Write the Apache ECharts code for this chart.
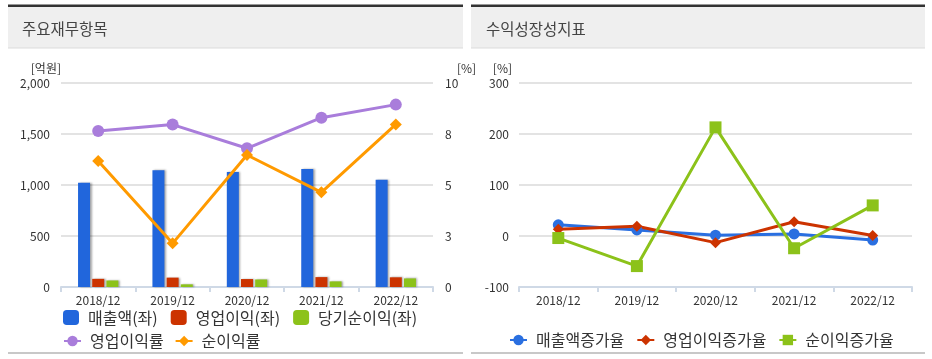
<!DOCTYPE html>
<html><head><meta charset="utf-8">
<script src="https://cdn.jsdelivr.net/npm/echarts@6/dist/echarts.min.js"></script>
<style>html,body{margin:0;padding:0;background:#fff}#c{width:932px;height:359px}</style>
</head><body><div id="c"></div>
<script>
const categories = ['2018/12','2019/12','2020/12','2021/12','2022/12'];
// left panel (억원 / %)
const sales = [1022, 1144, 1127, 1157, 1052];
const opIncome = [80, 92, 78, 97, 95];
const netIncome = [64, 26, 74, 55, 84];
const opMargin = [7.65, 7.96, 6.80, 8.30, 8.94];
const netMargin = [6.18, 2.14, 6.47, 4.64, 7.97];
// right panel (%)
const salesGrowth = [22, 12, 1.5, 4, -8];
const opGrowth = [13, 19, -13, 28, 1];
const netGrowth = [-4, -59, 213, -24, 60];

const FONT = '"Noto Sans CJK KR", "Noto Sans", sans-serif';
const chart = echarts.init(document.getElementById('c'), null, {renderer:'canvas'});

const axisLabel = {color:'#333', fontSize:12, fontFamily:FONT};
const splitLine = {show:true, lineStyle:{color:'#e3e3e3', width:2}};
const xAxisCommon = {
  type:'category', data:categories,
  axisLine:{show:true, onZero:false, lineStyle:{color:'#cfd9e6', width:2}},
  axisTick:{show:true, length:5, lineStyle:{color:'#cfd9e6', width:2}},
  axisLabel:Object.assign({margin:7}, axisLabel)
};
const legendText = {color:'#333', fontSize:16, fontFamily:FONT, padding:[0,0,0,4]};

const option = {
  animation:false,
  textStyle:{fontFamily:FONT},
  graphic:[
    {type:'rect', shape:{x:8,y:7,width:455,height:41}, style:{fill:'#efefef'}},
    {type:'rect', shape:{x:8,y:4.5,width:455,height:2.5}, style:{fill:'#333'}},
    {type:'rect', shape:{x:8,y:47.5,width:455,height:1}, style:{fill:'#dcdcdc'}},
    {type:'text', x:22, y:29.5, style:{text:'주요재무항목', fontSize:15.5, fill:'#444', fontFamily:FONT, textVerticalAlign:'middle'}},
    {type:'rect', shape:{x:8,y:352,width:455,height:2}, style:{fill:'#c8c8c8'}},
    {type:'rect', shape:{x:471,y:7,width:454,height:41}, style:{fill:'#efefef'}},
    {type:'rect', shape:{x:471,y:4.5,width:454,height:2.5}, style:{fill:'#333'}},
    {type:'rect', shape:{x:471,y:47.5,width:454,height:1}, style:{fill:'#dcdcdc'}},
    {type:'text', x:486, y:29.5, style:{text:'수익성장성지표', fontSize:15.5, fill:'#444', fontFamily:FONT, textVerticalAlign:'middle'}},
    {type:'rect', shape:{x:471,y:352,width:454,height:2}, style:{fill:'#c8c8c8'}}
  ],
  grid:[
    {left:61, right:499, top:83, bottom:72},
    {left:519, right:20, top:83, bottom:72}
  ],
  xAxis:[
    Object.assign({gridIndex:0}, xAxisCommon),
    Object.assign({gridIndex:1}, xAxisCommon)
  ],
  yAxis:[
    {gridIndex:0, type:'value', min:0, max:2000, interval:500,
     name:'[억원]', nameLocation:'end', nameGap:9,
     nameTextStyle:{color:'#333', fontSize:12, align:'right', fontFamily:FONT},
     axisLine:{show:false}, axisTick:{show:false},
     axisLabel:Object.assign({margin:11, formatter:v=>v.toLocaleString('en-US')}, axisLabel),
     splitLine:splitLine},
    {gridIndex:0, type:'value', position:'right', min:0, max:10, interval:2.5,
     name:'[%]', nameLocation:'end', nameGap:9,
     nameTextStyle:{color:'#333', fontSize:12, align:'left', padding:[0,0,0,24], fontFamily:FONT},
     axisLine:{show:false}, axisTick:{show:false},
     axisLabel:Object.assign({margin:12, formatter:v=>String(Math.round(v))}, axisLabel),
     splitLine:{show:false}},
    {gridIndex:1, type:'value', min:-100, max:300, interval:100,
     name:'[%]', nameLocation:'end', nameGap:9,
     nameTextStyle:{color:'#333', fontSize:12, align:'right', padding:[0,7,0,0], fontFamily:FONT},
     axisLine:{show:false}, axisTick:{show:false},
     axisLabel:Object.assign({margin:10}, axisLabel),
     splitLine:splitLine}
  ],
  legend:[
    {left:63, top:309.5, padding:0, itemWidth:16, itemHeight:15, itemGap:13, icon:'roundRect',
     textStyle:legendText, data:['매출액(좌)','영업이익(좌)','당기순이익(좌)']},
    {left:63, top:333, padding:0, itemWidth:17, itemHeight:13, itemGap:11,
     textStyle:legendText, data:['영업이익률','순이익률']},
    {left:509, top:332, padding:0, itemWidth:17, itemHeight:13, itemGap:12,
     textStyle:legendText, data:['매출액증가율','영업이익증가율','순이익증가율']}
  ],
  series:[
    {name:'매출액(좌)', type:'bar', xAxisIndex:0, yAxisIndex:0, data:sales, barWidth:12, barGap:'18%',
     itemStyle:{color:'#2166dc', shadowColor:'rgba(0,0,0,0.35)', shadowBlur:2, shadowOffsetX:1.5, shadowOffsetY:0}},
    {name:'영업이익(좌)', type:'bar', xAxisIndex:0, yAxisIndex:0, data:opIncome, barWidth:12, barGap:'18%',
     itemStyle:{color:'#cc3300', shadowColor:'rgba(0,0,0,0.35)', shadowBlur:2, shadowOffsetX:1.5, shadowOffsetY:0}},
    {name:'당기순이익(좌)', type:'bar', xAxisIndex:0, yAxisIndex:0, data:netIncome, barWidth:12, barGap:'18%',
     itemStyle:{color:'#8cc21a', shadowColor:'rgba(0,0,0,0.35)', shadowBlur:2, shadowOffsetX:1.5, shadowOffsetY:0}},
    {name:'영업이익률', type:'line', xAxisIndex:0, yAxisIndex:1, data:opMargin,
     symbol:'circle', symbolSize:12, lineStyle:{width:3, color:'#a97ddb'}, itemStyle:{color:'#a97ddb'}},
    {name:'순이익률', type:'line', xAxisIndex:0, yAxisIndex:1, data:netMargin,
     symbol:'diamond', symbolSize:12, lineStyle:{width:3, color:'#ff9a00'}, itemStyle:{color:'#ff9a00'}},
    {name:'매출액증가율', type:'line', xAxisIndex:1, yAxisIndex:2, data:salesGrowth,
     symbol:'circle', symbolSize:11, lineStyle:{width:3, color:'#2a6fe0'}, itemStyle:{color:'#2a6fe0'}},
    {name:'영업이익증가율', type:'line', xAxisIndex:1, yAxisIndex:2, data:opGrowth,
     symbol:'diamond', symbolSize:11, lineStyle:{width:3, color:'#cc3300'}, itemStyle:{color:'#cc3300'}},
    {name:'순이익증가율', type:'line', xAxisIndex:1, yAxisIndex:2, data:netGrowth,
     symbol:'rect', symbolSize:12, lineStyle:{width:3, color:'#8cc21a'}, itemStyle:{color:'#8cc21a'}}
  ]
};
chart.setOption(option);
</script></body></html>
